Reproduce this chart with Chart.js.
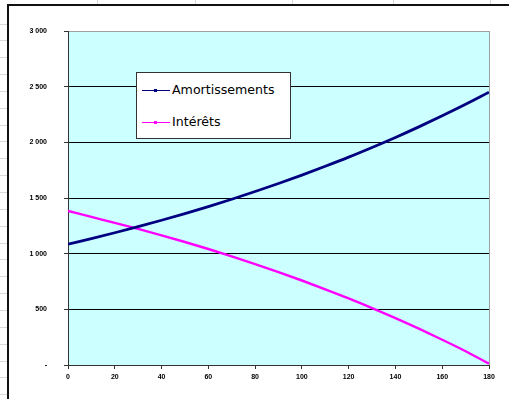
<!doctype html>
<html lang="fr">
<head>
<meta charset="UTF-8">
<title>Amortissements et intérêts</title>
<script src="https://cdn.jsdelivr.net/npm/chart.js"></script>
<style>
  html, body { margin: 0; padding: 0; background: #fff; }
  #wrap { position: relative; width: 509px; height: 399px; overflow: hidden; }
  #chart { position: absolute; left: 0; top: 0; }
  #legend {
    position: absolute; left: 136px; top: 72px; width: 155px; height: 67px;
    background: #fff; border: 1px solid #333; box-sizing: border-box;
    font-family: "DejaVu Sans", sans-serif; font-size: 12.6px; color: #000;
  }
  .item { position: absolute; left: 5px; height: 14px; line-height: 14px; white-space: nowrap; }
  .swatch { display: inline-block; position: relative; width: 28px; vertical-align: middle; margin-right: 2px; }
  .swatch i { position: absolute; left: 12px; top: -2px; width: 3px; height: 3px; }
</style>
</head>
<body>
<div id="wrap">
  <canvas id="chart" width="509" height="399"></canvas>
  <div id="legend"></div>
</div>
<script>
  // values, every 10 months
  const months = [0, 10, 20, 30, 40, 50, 60, 70, 80, 90, 100, 110, 120, 130, 140, 150, 160, 170, 180];
  const amortissements = [1085, 1135, 1188, 1243, 1300, 1360, 1423, 1489, 1558, 1630, 1706, 1785, 1867, 1954, 2044, 2139, 2238, 2341, 2450];
  const interets = [1384, 1330, 1277, 1222, 1165, 1105, 1042, 976, 907, 835, 759, 680, 598, 511, 421, 326, 227, 124, 12];
  const yTicks = [0, 500, 1000, 1500, 2000, 2500, 3000];
  const xTicks = [0, 20, 40, 60, 80, 100, 120, 140, 160, 180];

  const toPoints = (vals) => vals.map((v, i) => ({ x: months[i], y: v }));

  // spreadsheet behind the chart + chart frame + plot fill
  const sheet = {
    id: 'sheet',
    beforeDraw(chart) {
      const c = chart.ctx;
      const a = chart.chartArea;
      c.save();
      c.fillStyle = '#fff';
      c.fillRect(0, 0, chart.width, chart.height);
      c.strokeStyle = '#d9d9d9';
      c.lineWidth = 1;
      for (let y = 23.5; y < chart.height; y += 16.85) {
        c.beginPath(); c.moveTo(0, Math.round(y) + 0.5); c.lineTo(7, Math.round(y) + 0.5); c.stroke();
      }
      [97, 195, 292, 393, 490].forEach(x => {
        c.beginPath(); c.moveTo(x + 0.5, 0); c.lineTo(x + 0.5, 4); c.stroke();
      });
      c.fillStyle = '#111';
      c.fillRect(7, 4, chart.width - 7, 2);
      c.fillRect(7, 4, 2, chart.height - 4);
      c.fillStyle = '#ccffff';
      c.fillRect(a.left, a.top, a.right - a.left, a.bottom - a.top);
      c.restore();
    }
  };

  const ctx = document.getElementById('chart').getContext('2d');
  const chart = new Chart(ctx, {
    type: 'line',
    data: {
      datasets: [
        {
          label: 'Amortissements',
          data: toPoints(amortissements),
          borderColor: '#000080',
          backgroundColor: '#000080',
          borderWidth: 2.8,
          pointRadius: 0,
          cubicInterpolationMode: 'monotone'
        },
        {
          label: 'Intérêts',
          data: toPoints(interets),
          borderColor: '#ff00ff',
          backgroundColor: '#ff00ff',
          borderWidth: 2.4,
          pointRadius: 0,
          cubicInterpolationMode: 'monotone'
        }
      ]
    },
    options: {
      responsive: false,
      animation: false,
      layout: { padding: { left: 0, top: 31, right: 20, bottom: 0 } },
      plugins: { legend: { display: false }, tooltip: { enabled: false } },
      scales: {
        x: {
          type: 'linear',
          min: 0,
          max: 180,
          afterFit: s => { s.height = 34; },
          afterBuildTicks: s => { s.ticks = xTicks.map(v => ({ value: v })); },
          border: { color: '#333', width: 1 },
          grid: {
            color: c => c.tick && c.tick.value === 180 ? '#a0a0a0' : 'rgba(0,0,0,0)',
            tickColor: '#333',
            tickLength: 4
          },
          ticks: {
            padding: 4,
            color: '#000',
            font: { family: 'Liberation Sans', size: 7, weight: 'bold' },
            maxRotation: 0
          }
        },
        y: {
          min: 0,
          max: 3000,
          afterFit: s => { s.width = 68; },
          afterBuildTicks: s => { s.ticks = yTicks.map(v => ({ value: v })); },
          border: { color: '#333', width: 1 },
          grid: {
            color: c => c.tick && c.tick.value === 3000 ? '#a0a0a0' : '#000',
            tickColor: '#333',
            tickLength: 4
          },
          ticks: {
            padding: 17,
            color: '#000',
            font: { family: 'Liberation Sans', size: 7, weight: 'bold' },
            callback: v => v === 0 ? '-' : String(v).replace(/\B(?=(\d{3})+(?!\d))/g, ' ')
          }
        }
      }
    },
    plugins: [sheet]
  });

  // legend box built from the datasets
  const legend = document.getElementById('legend');
  chart.data.datasets.forEach((ds, i) => {
    const item = document.createElement('div');
    item.className = 'item';
    item.style.top = (i === 0 ? 10 : 42) + 'px';
    const sw = document.createElement('span');
    sw.className = 'swatch';
    sw.style.borderTop = '1px solid ' + ds.borderColor;
    const mk = document.createElement('i');
    mk.style.background = ds.borderColor;
    sw.appendChild(mk);
    item.appendChild(sw);
    item.appendChild(document.createTextNode(ds.label));
    legend.appendChild(item);
  });
</script>
</body>
</html>
